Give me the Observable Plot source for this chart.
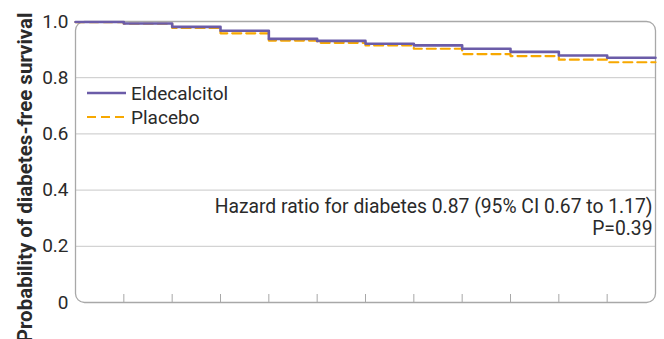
<!DOCTYPE html>
<html>
<head>
<meta charset="utf-8">
<script src="https://cdn.jsdelivr.net/npm/d3@7"></script>
<script src="https://cdn.jsdelivr.net/npm/@observablehq/plot@0.6"></script>
<style>
  html, body { margin: 0; padding: 0; background: #fff; }
  #wrap { position: relative; width: 664px; height: 339px; overflow: hidden; font-family: Roboto, sans-serif; }
  #legend { position: absolute; left: 0; top: 0; }
</style>
</head>
<body>
<div id="wrap"></div>
<script>
// Step times (interval boundaries) and survival estimates per interval
const times = [0, 1, 2, 3, 4, 5, 6, 7, 8, 9, 10, 11, 12];
const eldecalcitol = [0.998, 0.993, 0.981, 0.967, 0.938, 0.931, 0.921, 0.915, 0.903, 0.892, 0.879, 0.871];
const placebo      = [0.998, 0.992, 0.977, 0.958, 0.932, 0.924, 0.915, 0.903, 0.884, 0.877, 0.864, 0.855];
const yTicks = [0, 0.2, 0.4, 0.6, 0.8, 1.0];
const xTicks = [1, 2, 3, 4, 5, 6, 7, 8, 9, 10, 11];
const seriesNames = ["Eldecalcitol", "Placebo"];
const yLabel = "Probability of diabetes-free survival";
const annotation = ["Hazard ratio for diabetes 0.87 (95% CI 0.67 to 1.17)", "P=0.39"];

const colors = {Eldecalcitol: "#6b5ca8", Placebo: "#f7a800"};
const textColor = "#2a2a2a";
const font = "Roboto, sans-serif";

function steps(values) {
  // each value holds from times[i] to times[i+1]; the end point carries the last step
  return times.map((t, i) => ({t, s: values[Math.min(i, values.length - 1)]}));
}
const eldData = steps(eldecalcitol);
const plaData = steps(placebo);

const chart = Plot.plot({
  width: 664,
  height: 339,
  marginLeft: 75,
  marginRight: 9,
  marginTop: 21,
  marginBottom: 37,
  x: {domain: [0, 12]},
  y: {domain: [0, 1]},
  style: {fontFamily: font, fontSize: "19px", color: textColor, background: "#fff", overflow: "visible"},
  marks: [
    Plot.gridY(yTicks.filter(d => d > 0 && d < 1), {stroke: "#c8c8c8", strokeOpacity: 1, strokeWidth: 1}),
    Plot.frame({stroke: "#a8a8a8", strokeWidth: 1.3, rx: 9}),
    Plot.axisX(xTicks, {tickSize: -8, stroke: "#a8a8a8", tickFormat: () => "", label: null}),
    Plot.axisY(yTicks, {tickSize: 0, tickPadding: 7, fontSize: 19, fill: textColor,
      tickFormat: d => d === 0 ? "0" : d.toFixed(1), label: null}),
    Plot.line(plaData, {x: "t", y: "s", curve: "step-after", stroke: colors.Placebo,
      strokeWidth: 2.2, strokeDasharray: "9,5"}),
    Plot.line(eldData, {x: "t", y: "s", curve: "step-after", stroke: colors.Eldecalcitol,
      strokeWidth: 2.6}),
    Plot.text([annotation.join("\n")], {text: d => d, frameAnchor: "top-right", dx: -3, dy: 175,
      textAnchor: "end", lineAnchor: "top", lineHeight: 1.17, fontSize: 19.3, fill: textColor}),
    Plot.text([yLabel], {text: d => d, frameAnchor: "top-left", rotate: -90, dx: -58, dy: -9,
      textAnchor: "end", fontWeight: "bold", fontSize: 20.5, fill: textColor})
  ]
});

const wrap = document.getElementById("wrap");
wrap.appendChild(chart);

// legend overlay
const ns = "http://www.w3.org/2000/svg";
const lg = document.createElementNS(ns, "svg");
lg.setAttribute("id", "legend");
lg.setAttribute("width", 664);
lg.setAttribute("height", 339);
const legendRows = [
  {name: seriesNames[0], color: colors.Eldecalcitol, dash: null, w: 2.6},
  {name: seriesNames[1], color: colors.Placebo, dash: "9,5", w: 2.2}
];
legendRows.forEach((r, i) => {
  const y = 93 + i * 24;
  const ln = document.createElementNS(ns, "line");
  ln.setAttribute("x1", 87); ln.setAttribute("x2", 126);
  ln.setAttribute("y1", y); ln.setAttribute("y2", y);
  ln.setAttribute("stroke", r.color);
  ln.setAttribute("stroke-width", r.w);
  if (r.dash) ln.setAttribute("stroke-dasharray", r.dash);
  lg.appendChild(ln);
  const tx = document.createElementNS(ns, "text");
  tx.setAttribute("x", 131); tx.setAttribute("y", y);
  tx.setAttribute("dy", "0.35em");
  tx.setAttribute("font-size", 19);
  tx.setAttribute("font-family", font);
  tx.setAttribute("fill", textColor);
  tx.textContent = r.name;
  lg.appendChild(tx);
});
wrap.appendChild(lg);
</script>
</body>
</html>
